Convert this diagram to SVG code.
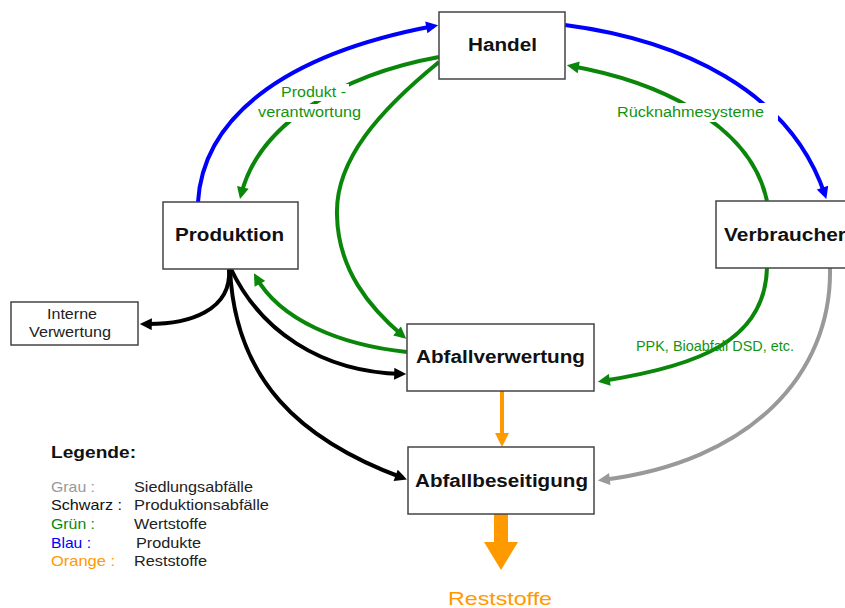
<svg xmlns="http://www.w3.org/2000/svg" width="845" height="608" viewBox="0 0 845 608">
<style>
.box{fill:#fff;stroke:#444;stroke-width:1.5}
.nl{font-family:"Liberation Sans",Arial,sans-serif;font-weight:bold;font-size:18px;fill:#111}
.sl{font-family:"Liberation Sans",Arial,sans-serif;font-size:14px;fill:#222}
.lab{font-family:"Liberation Sans",Arial,sans-serif;font-size:14px;fill:#129412}
.lg{font-family:"Liberation Sans",Arial,sans-serif;font-size:14.5px}
.c{fill:none;stroke-width:4}
.g{stroke:#0a870a}
.b{stroke:#0000ff}
.k{stroke:#000}
.gr{stroke:#999}
.o{stroke:#ff9900}
</style>
<defs>
<marker id="ag" viewBox="0 0 10 10" refX="6.5" refY="5" markerWidth="14" markerHeight="12" markerUnits="userSpaceOnUse" orient="auto"><path d="M0,0 L10,5 L0,10 z" fill="#0a870a"/></marker>
<marker id="ab" viewBox="0 0 10 10" refX="6.5" refY="5" markerWidth="14" markerHeight="12" markerUnits="userSpaceOnUse" orient="auto"><path d="M0,0 L10,5 L0,10 z" fill="#0000ff"/></marker>
<marker id="ak" viewBox="0 0 10 10" refX="6.5" refY="5" markerWidth="14" markerHeight="12" markerUnits="userSpaceOnUse" orient="auto"><path d="M0,0 L10,5 L0,10 z" fill="#000"/></marker>
<marker id="agr" viewBox="0 0 10 10" refX="6.5" refY="5" markerWidth="14" markerHeight="12" markerUnits="userSpaceOnUse" orient="auto"><path d="M0,0 L10,5 L0,10 z" fill="#999"/></marker>
<marker id="ao" viewBox="0 0 10 10" refX="6.5" refY="5" markerWidth="14" markerHeight="16" markerUnits="userSpaceOnUse" orient="auto"><path d="M0,0 L10,5 L0,10 z" fill="#ff9900"/></marker>
</defs>
<rect width="845" height="608" fill="#fff"/>
<g id="connectors">
<path class="c b" d="M198,202 C203,120 280,55 434,26" marker-end="url(#ab)"/>
<path class="c b" d="M565,25 C680,40 790,90 825,195" marker-end="url(#ab)"/>
<path class="c g" d="M767,201 C750,120 650,80 571,66" marker-end="url(#ag)"/>
<path class="c g" d="M767,268 C765,340 700,366 602,381" marker-end="url(#ag)"/>
<path class="c g" d="M439,57 C340,75 258,125 241,195" marker-end="url(#ag)"/>
<path class="c g" d="M439,62 C380,110 335,160 337,215 C338,270 370,308 403,336" marker-end="url(#ag)"/>
<path class="c g" d="M407,352 C340,345 280,320 256,277" marker-end="url(#ag)"/>
<path class="c k" d="M229,269 C232,310 190,325 144,324" marker-end="url(#ak)"/>
<path class="c k" d="M231,269 C260,330 320,372 402,374" marker-end="url(#ak)"/>
<path class="c k" d="M230,269 C235,380 300,440 403,478" marker-end="url(#ak)"/>
<path class="c gr" d="M830,268 C832,375 750,462 602,480" marker-end="url(#agr)"/>
<path class="c o" d="M502,391 L502,442" marker-end="url(#ao)"/>
<path d="M494,514 L508,514 L508,542 L518,542 L501,570 L484,542 L494,542 Z" fill="#ff9900"/>
</g>
<g id="labels">
<rect x="612" y="103" width="166" height="19" fill="#fff"/>
<text class="lab" x="617" y="117" textLength="147" lengthAdjust="spacingAndGlyphs">Rücknahmesysteme</text>
<rect x="278" y="84" width="71" height="17" fill="#fff"/>
<rect x="255" y="104" width="109" height="18" fill="#fff"/>
<text class="lab" x="281" y="97" textLength="65" lengthAdjust="spacingAndGlyphs">Produkt -</text>
<text class="lab" x="258" y="117" textLength="103" lengthAdjust="spacingAndGlyphs">verantwortung</text>
<text class="lab" x="636" y="351" textLength="158" lengthAdjust="spacingAndGlyphs">PPK, Bioabfall DSD, etc.</text>
</g>
<g id="handel">
<rect class="box" x="439" y="12" width="126" height="67"/>
<text class="nl" x="468" y="51" textLength="69" lengthAdjust="spacingAndGlyphs">Handel</text>
</g>
<g id="produktion">
<rect class="box" x="163" y="202" width="135" height="67"/>
<text class="nl" x="175" y="241" textLength="109" lengthAdjust="spacingAndGlyphs">Produktion</text>
</g>
<g id="verbraucher">
<rect class="box" x="716" y="201" width="140" height="67"/>
<text class="nl" x="724" y="241" textLength="122" lengthAdjust="spacingAndGlyphs">Verbraucher</text>
</g>
<g id="abfallverwertung">
<rect class="box" x="407" y="324" width="187" height="67"/>
<text class="nl" x="416" y="363" textLength="169" lengthAdjust="spacingAndGlyphs">Abfallverwertung</text>
</g>
<g id="abfallbeseitigung">
<rect class="box" x="408" y="447" width="186" height="67"/>
<text class="nl" x="415" y="487" textLength="173" lengthAdjust="spacingAndGlyphs">Abfallbeseitigung</text>
</g>
<g id="interne-verwertung">
<rect class="box" x="11" y="302" width="127" height="43"/>
<text class="sl" x="47" y="319" textLength="50" lengthAdjust="spacingAndGlyphs">Interne</text>
<text class="sl" x="29" y="337" textLength="82" lengthAdjust="spacingAndGlyphs">Verwertung</text>
</g>
<g id="reststoffe">
<text x="448" y="605" font-family="Liberation Sans, Arial, sans-serif" font-size="19" fill="#ff9900" textLength="104" lengthAdjust="spacingAndGlyphs">Reststoffe</text>
</g>
<g id="legende">
<text x="51" y="458" font-family="Liberation Sans, Arial, sans-serif" font-weight="bold" font-size="17" fill="#111" textLength="85" lengthAdjust="spacingAndGlyphs">Legende:</text>
<text class="lg" x="51" y="492" fill="#999" textLength="44" lengthAdjust="spacingAndGlyphs">Grau :</text>
<text class="lg" x="51" y="510" fill="#111" textLength="71" lengthAdjust="spacingAndGlyphs">Schwarz :</text>
<text class="lg" x="51" y="529" fill="#0a870a" textLength="44" lengthAdjust="spacingAndGlyphs">Grün :</text>
<text class="lg" x="51" y="548" fill="#0000ff" textLength="40" lengthAdjust="spacingAndGlyphs">Blau :</text>
<text class="lg" x="51" y="566" fill="#ff9900" textLength="64" lengthAdjust="spacingAndGlyphs">Orange :</text>
<text class="lg" x="134" y="492" fill="#222" textLength="119" lengthAdjust="spacingAndGlyphs">Siedlungsabfälle</text>
<text class="lg" x="134" y="510" fill="#222" textLength="135" lengthAdjust="spacingAndGlyphs">Produktionsabfälle</text>
<text class="lg" x="134" y="529" fill="#222" textLength="73" lengthAdjust="spacingAndGlyphs">Wertstoffe</text>
<text class="lg" x="136" y="548" fill="#222" textLength="65" lengthAdjust="spacingAndGlyphs">Produkte</text>
<text class="lg" x="134" y="566" fill="#222" textLength="73" lengthAdjust="spacingAndGlyphs">Reststoffe</text>
</g>
</svg>
